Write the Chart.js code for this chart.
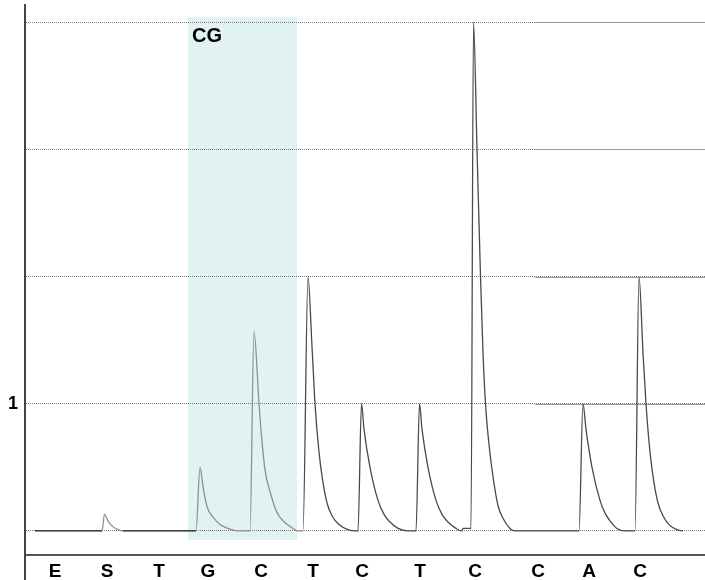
<!DOCTYPE html>
<html lang="en">
<head>
<meta charset="UTF-8">
<title>Pyrogram</title>
<script src="https://cdn.jsdelivr.net/npm/chart.js@4.4.2/dist/chart.umd.min.js"></script>
<style>
    html, body { margin: 0; padding: 0; background: #fff; }
    #wrap { position: relative; width: 705px; height: 580px; }
</style>
</head>
<body>
<div id="wrap"><canvas id="pyrogram"></canvas></div>

<script>
// dispensation order and where each dispensation label sits on the time axis (s)
const dispensations = ['E', 'S', 'T', 'G', 'C', 'T', 'C', 'T', 'C', 'C', 'A', 'C'];
const dispensationTimes = [3.0, 8.2, 13.4, 18.3, 23.6, 28.8, 33.7, 39.5, 45.0, 51.3, 56.4, 61.5];

// light signal trace, read peak by peak
const traceTime = [
    1.0, 7.7, 7.95, 8.3, 8.7, 9.3, 9.8,
    17.1, 17.5, 17.8, 18.0, 18.3, 18.7, 19.5, 20.3, 21.2,
    22.5, 22.9, 23.4, 23.67, 24.0, 24.5, 25.17, 25.8, 26.8, 27.2,
    27.8, 28.3, 28.7, 29.0, 29.4, 29.8, 30.2, 30.7, 31.4, 32.3, 33.0,
    33.3, 33.65, 33.9, 34.5, 35.3, 35.9, 36.5, 37.3, 38.3,
    39.1, 39.45, 39.7, 40.3, 41.1, 41.7, 42.3, 43.1, 43.7,
    43.8, 44.5, 44.6, 44.85, 45.2, 45.55, 45.8, 46.05, 46.4, 46.85, 47.3, 47.8, 48.5, 49.0,
    55.4, 55.8, 56.1, 56.7, 57.5, 58.0, 58.5, 59.2, 60.0,
    61.0, 61.4, 61.8, 62.1, 62.5, 62.9, 63.3, 63.8, 64.4, 65.2, 65.8
];
const traceSignal = [
    0, 0, 0.13, 0.08, 0.04, 0.01, 0,
    0, 0.5, 0.35, 0.26, 0.17, 0.12, 0.05, 0.02, 0,
    0, 1.57, 1.0, 0.73, 0.48, 0.31, 0.15, 0.08, 0.02, 0,
    0, 2.0, 1.45, 1.0, 0.62, 0.38, 0.22, 0.12, 0.05, 0.01, 0,
    0, 1.0, 0.8, 0.5, 0.24, 0.13, 0.07, 0.02, 0,
    0, 1.0, 0.8, 0.5, 0.24, 0.13, 0.07, 0.02, 0,
    0.02, 0.02, 0.02, 4.0, 3.0, 2.0, 1.4, 1.0, 0.68, 0.4, 0.2, 0.1, 0.02, 0,
    0, 1.0, 0.8, 0.5, 0.24, 0.14, 0.08, 0.02, 0,
    0, 2.0, 1.4, 1.0, 0.62, 0.38, 0.22, 0.12, 0.05, 0.01, 0
];

// y grid levels, and which of them carry a label
const yGrid = [0, 1, 2, 3, 4];
const yLabelled = [1];

// highlighted CG site
const highlightSpan = [16.3, 27.2];
const highlightLabel = 'CG';

const FONT = "'Liberation Sans', Arial, sans-serif";

const pyroDecor = {
    id: 'pyroDecor',
    beforeDraw(chart) {
        const { ctx, scales: { x, y } } = chart;
        const left = x.getPixelForValue(highlightSpan[0]);
        const right = x.getPixelForValue(highlightSpan[1]);
        const top = y.getPixelForValue(yGrid[yGrid.length - 1]) - 5;
        const bottom = y.getPixelForValue(0) + 9;
        ctx.save();
        ctx.fillStyle = '#e1f2f2';
        ctx.fillRect(left, top, right - left, bottom - top);
        ctx.restore();
    },
    beforeDatasetsDraw(chart) {
        const { ctx, chartArea, scales: { x, y } } = chart;
        ctx.save();
        // right-hand part of the grid is drawn solid
        ctx.strokeStyle = '#9a9a9a';
        ctx.lineWidth = 1;
        const from = Math.round(x.getPixelForValue(51));
        yGrid.filter(v => v > 0).forEach(v => {
            const py = Math.round(y.getPixelForValue(v)) + 0.5;
            ctx.beginPath();
            ctx.moveTo(from, py);
            ctx.lineTo(chartArea.right, py);
            ctx.stroke();
        });
        // site label
        const left = x.getPixelForValue(highlightSpan[0]);
        const top = y.getPixelForValue(yGrid[yGrid.length - 1]) - 5;
        ctx.fillStyle = '#000';
        ctx.font = 'bold 20px ' + FONT;
        ctx.textBaseline = 'alphabetic';
        ctx.textAlign = 'left';
        ctx.fillText(highlightLabel, left + 4, top + 25);
        ctx.restore();
    },
    afterDraw(chart) {
        // y axis line runs on past the x axis
        const { ctx, chartArea } = chart;
        ctx.save();
        ctx.strokeStyle = '#444';
        ctx.lineWidth = 2;
        ctx.beginPath();
        ctx.moveTo(chartArea.left, chartArea.bottom);
        ctx.lineTo(chartArea.left, chart.height);
        ctx.stroke();
        ctx.restore();
    }
};

new Chart(document.getElementById('pyrogram'), {
    type: 'line',
    data: {
        datasets: [{
            data: traceTime.map((t, i) => ({ x: t, y: traceSignal[i] })),
            borderColor: '#4d4d4d',
            borderWidth: 1.3,
            pointRadius: 0,
            cubicInterpolationMode: 'monotone',
            fill: false,
            segment: {
                borderColor: c => {
                    const t = c.p0.parsed.x;
                    if ((t >= 7.7 && t < 9.8) || (t >= 17 && t < 27.5)) return '#8f8f8f';
                    return t < 27.5 ? '#1a1a1a' : '#4a4a4a';
                }
            }
        }]
    },
    options: {
        responsive: true,
        maintainAspectRatio: false,
        animation: false,
        layout: { padding: { top: 5, left: 0, right: 0, bottom: 0 } },
        plugins: {
            legend: { display: false },
            tooltip: { enabled: false }
        },
        events: [],
        scales: {
            x: {
                type: 'linear',
                min: 0,
                max: 68,
                grid: { display: false, drawTicks: false },
                border: { display: true, color: '#555', width: 2 },
                afterBuildTicks: s => { s.ticks = dispensationTimes.map(v => ({ value: v })); },
                afterFit: s => { s.height = 25; s.paddingLeft = 0; s.paddingRight = 0; },
                ticks: {
                    autoSkip: false,
                    maxRotation: 0,
                    padding: 5,
                    color: '#000',
                    font: { family: FONT, size: 19, weight: 'bold' },
                    callback: (v, i) => dispensations[i]
                }
            },
            y: {
                type: 'linear',
                min: -0.189,
                max: 4.135,
                grid: {
                    color: '#7a7a7a',
                    lineWidth: 1,
                    drawTicks: false
                },
                border: { display: true, color: '#444', width: 2, dash: [1, 1] },
                afterBuildTicks: s => { s.ticks = yGrid.map(v => ({ value: v })); },
                afterFit: s => { s.width = 25; s.paddingTop = 0; s.paddingBottom = 0; },
                ticks: {
                    padding: 7,
                    color: '#000',
                    font: { family: FONT, size: 18, weight: 'bold' },
                    callback: v => yLabelled.includes(v) ? String(v) : ''
                }
            }
        }
    },
    plugins: [pyroDecor]
});
</script>
</body>
</html>
